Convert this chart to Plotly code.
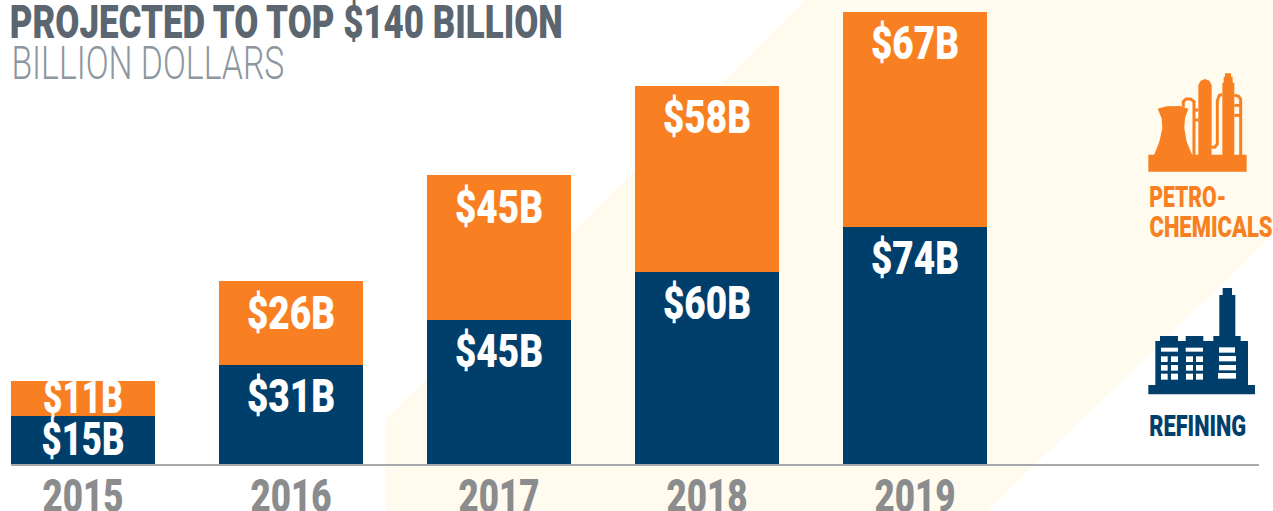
import json
import plotly.graph_objects as go

W, H = 1273, 511
years = ["2015", "2016", "2017", "2018", "2019"]
refining = [15, 31, 45, 60, 74]
petro = [11, 26, 45, 58, 67]
NAVY, ORANGE = "#003f6b", "#f88022"
CREAM = "#fffbee"
F = "Roboto"
HEAVY = 900

def px(x): return x / W
def py(y): return 1 - y / H

def poly(points):
    return "M" + " L".join(f"{px(x):.5f},{py(y):.5f}" for x, y in points) + " Z"

def rect(x0, y0, x1, y1):
    return [(x0, y0), (x1, y0), (x1, y1), (x0, y1)]

def pz(ox, oy, pts):
    return [(ox + x / 3, oy + y / 3) for x, y in pts]

fig = go.Figure()
for name, vals, col in [("Refining", refining, NAVY), ("Petrochemicals", petro, ORANGE)]:
    fig.add_bar(x=years, y=vals, name=name, marker=dict(color=col, line_width=0))

# value labels sit a fixed distance under each segment top, or centred when the segment is short
label_offset = 11.2
short_nudge = 1.1
label_x, label_y, label_text = [], [], []
for i, yr in enumerate(years):
    base = 0
    for v in (refining[i], petro[i]):
        top = base + v
        label_x.append(yr)
        label_y.append(top - v / 2 - short_nudge if v < 20 else top - label_offset)
        label_text.append(f"${v}B")
        base = top
fig.add_scatter(x=label_x, y=label_y, text=label_text, mode="text", textposition="middle center", cliponaxis=False,
                textfont=dict(family=F, size=46, color="white", weight=HEAVY), hoverinfo="skip")

shapes = [dict(type="path", xref="paper", yref="paper", layer="below", line_width=0, fillcolor=CREAM,
               path=poly([(385, 511), (385, 420), (805, 0), (1273, 0), (1273, 235), (987, 511)]))]

def add_poly(pts, color, ox, oy):
    shapes.append(dict(type="path", xref="paper", yref="paper", layer="above", line_width=0, fillcolor=color,
                       path=poly(pz(ox, oy, pts))))

def add_line(pts, color, width, ox, oy):
    p = pz(ox, oy, pts)
    shapes.append(dict(type="path", xref="paper", yref="paper", layer="above", fillcolor="rgba(0,0,0,0)",
                       line=dict(color=color, width=width),
                       path="M" + " L".join(f"{px(x):.5f},{py(y):.5f}" for x, y in p)))

# petrochemical plant icon
ox, oy = 1130, 60
add_poly(rect(55, 284, 350, 335), ORANGE, ox, oy)
add_poly([(83, 146), (110, 139), (150, 138), (175, 146), (165, 175), (163, 205), (170, 245), (187, 286),
          (72, 286), (88, 245), (97, 205), (95, 175)], ORANGE, ox, oy)
add_poly([(205, 286), (205, 75), (212, 62), (225, 57), (238, 62), (245, 75), (245, 286)], ORANGE, ox, oy)
add_poly([(277, 286), (277, 68), (281, 68), (281, 50), (285, 50), (285, 40), (303, 40), (303, 50), (308, 50),
          (308, 68), (313, 68), (313, 286)], ORANGE, ox, oy)
add_line([(160, 140), (160, 125), (168, 117), (182, 117), (192, 125), (192, 286)], ORANGE, 3, ox, oy)
add_line([(192, 150), (205, 150)], ORANGE, 3, ox, oy)
add_line([(192, 180), (205, 180)], ORANGE, 3, ox, oy)
add_line([(245, 262), (254, 262), (262, 252), (262, 122), (268, 106), (277, 104)], ORANGE, 3, ox, oy)
add_line([(313, 106), (325, 108), (332, 118), (332, 286)], ORANGE, 3, ox, oy)
add_line([(313, 136), (332, 136)], ORANGE, 3, ox, oy)
add_line([(313, 166), (332, 166)], ORANGE, 3, ox, oy)

# refinery icon
ox, oy = 1130, 270
factory = [(55, 373), (55, 345), (76, 345), (76, 213), (90, 213), (90, 198), (144, 198), (144, 213), (167, 213),
           (167, 198), (220, 198), (220, 213), (250, 213), (250, 198), (268, 198), (268, 75), (278, 75), (278, 54),
           (306, 54), (306, 75), (316, 75), (316, 198), (332, 198), (332, 213), (354, 213), (354, 345), (375, 345),
           (375, 373)]
add_poly(factory, NAVY, ox, oy)
windows = [(93, 233, 144, 245), (167, 233, 219, 245), (267, 232, 315, 248), (267, 258, 318, 274),
           (267, 285, 318, 301), (264, 309, 318, 326)]
for y0, y1 in [(259, 276), (285, 302), (311, 329)]:
    for x0, x1 in [(93, 113), (123, 144), (168, 189), (198, 219)]:
        windows.append((x0, y0, x1, y1))
for w in windows:
    add_poly(rect(*w), "white", ox, oy)

ann = []
def label(text, cx, cy, size, color, weight=HEAVY):
    ann.append(dict(text=text, x=px(cx), y=py(cy), xref="paper", yref="paper", xanchor="center", yanchor="middle",
                    showarrow=False, font=dict(family=F, size=size, color=color, weight=weight)))

label("PROJECTED TO TOP $140 BILLION", 286.5, 21.5, 47, "#5b6670")
label("BILLION DOLLARS", 148, 63, 46, "#8d979f", 300)
label("PETRO-", 1187.5, 197, 30, ORANGE)
label("CHEMICALS", 1210.5, 226, 30, ORANGE)
label("REFINING", 1197.5, 425, 30, NAVY)

fig.update_layout(barmode="stack", width=W, height=H, margin=dict(l=0, r=0, t=0, b=0, pad=0), showlegend=False,
                  paper_bgcolor="white", plot_bgcolor="rgba(0,0,0,0)", bargap=0.308, shapes=shapes, annotations=ann,
                  xaxis=dict(type="category", domain=[11 / W, 1259 / W], range=[-0.346, 5.654], automargin=False,
                             tickfont=dict(family=F, size=46, color="#8a8c8e", weight=HEAVY), showline=True,
                             linecolor="#a7a9ac", linewidth=2, ticks="", ticklabelstandoff=-9,
                             showgrid=False, zeroline=False),
                  yaxis=dict(domain=[47 / H, 1], range=[0, 144.7], visible=False, automargin=False))

widths = {"PROJECTED TO TOP $140 BILLION": 553, "BILLION DOLLARS": 273, "PETRO-": 77, "CHEMICALS": 123,
          "REFINING": 97, "$11B": 80, "$15B": 83}
for y in years:
    widths[y] = 81
js = ("document.body.style.margin='0';var W=" + json.dumps(widths) + ";"
      "document.querySelectorAll('svg text').forEach(function(t){var s=t.textContent;"
      "var w=W[s]||(/^\\$\\d+B$/.test(s)?88:0);"
      "if(w){t.setAttribute('textLength',w);t.setAttribute('lengthAdjust','spacingAndGlyphs');}});")
fig.write_html("out.html", post_script=js, config=dict(displayModeBar=False))
